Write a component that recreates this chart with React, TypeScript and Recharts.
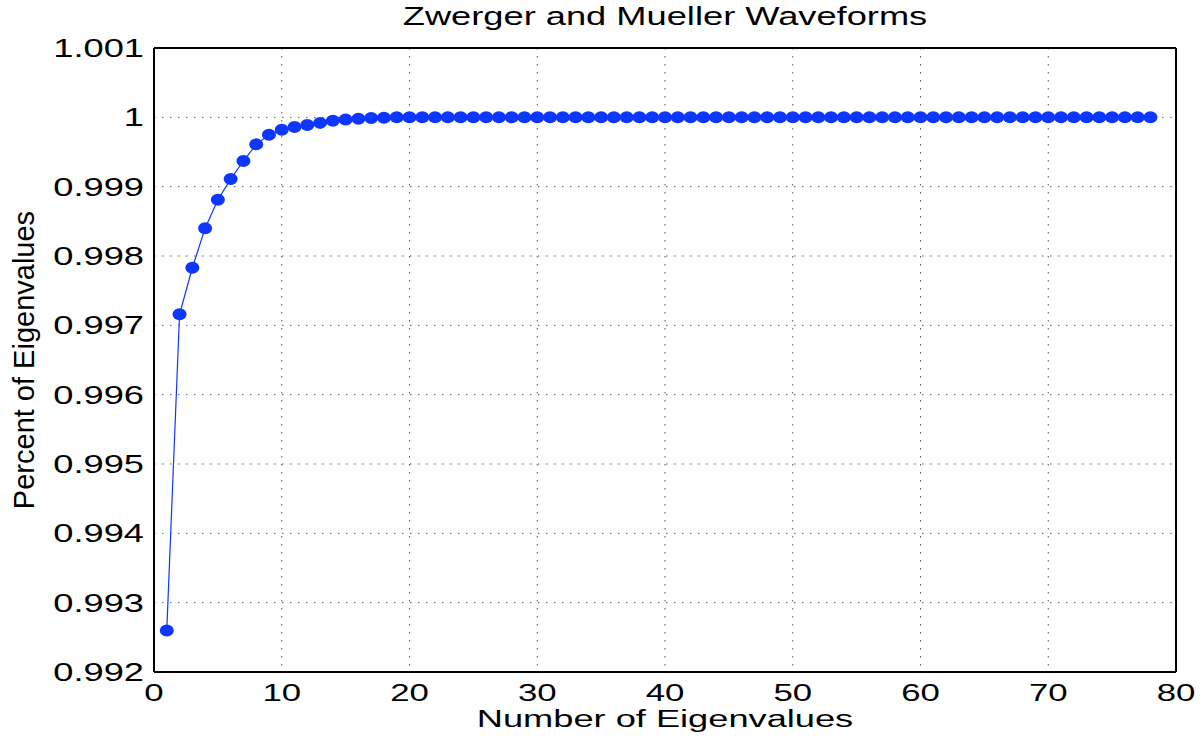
import { CartesianGrid, Label, Line, LineChart, XAxis, YAxis } from 'recharts';

const eigenCounts = [
  1, 2, 3, 4, 5, 6, 7, 8, 9, 10, 11, 12, 13, 14, 15, 16, 17, 18, 19, 20,
  21, 22, 23, 24, 25, 26, 27, 28, 29, 30, 31, 32, 33, 34, 35, 36, 37, 38, 39, 40,
  41, 42, 43, 44, 45, 46, 47, 48, 49, 50, 51, 52, 53, 54, 55, 56, 57, 58, 59, 60,
  61, 62, 63, 64, 65, 66, 67, 68, 69, 70, 71, 72, 73, 74, 75, 76, 77, 78,
];

const percentValues = [
  0.9926, 0.99716, 0.99783, 0.9984, 0.99881, 0.99911, 0.99937, 0.99961, 0.99975, 0.99982,
  0.99986, 0.99989, 0.99992, 0.99995, 0.99997, 0.99998, 0.99999, 0.999995, 1, 1,
  1, 1, 1, 1, 1, 1, 1, 1, 1, 1, 1, 1, 1, 1, 1, 1, 1, 1, 1, 1,
  1, 1, 1, 1, 1, 1, 1, 1, 1, 1, 1, 1, 1, 1, 1, 1, 1, 1, 1, 1,
  1, 1, 1, 1, 1, 1, 1, 1, 1, 1, 1, 1, 1, 1, 1, 1, 1, 1,
];

const xTicks = [0, 10, 20, 30, 40, 50, 60, 70, 80];
const yTicks = [0.992, 0.993, 0.994, 0.995, 0.996, 0.997, 0.998, 0.999, 1, 1.001];

const chartTitle = 'Zwerger and Mueller Waveforms';
const xTitle = 'Number of Eigenvalues';
const yTitle = 'Percent of Eigenvalues';

const data = eigenCounts.map((n, i) => ({ n, v: percentValues[i] }));

const FONT = '"Liberation Sans", Arial, Helvetica, sans-serif';
const BLUE = '#0d36ff';
const STRETCH = 1.45;

// matlab style: drop trailing zeros
const fmtY = (v: number) => String(Number(v.toFixed(3)));

function XTick({ x, y, payload }: any) {
  return (
    <text
      transform={`translate(${x},${y + 29}) scale(${STRETCH},1)`}
      textAnchor="middle"
      fontFamily={FONT}
      fontSize={24}
      fill="#000"
    >
      {payload.value}
    </text>
  );
}

function YTick({ x, y, payload }: any) {
  return (
    <text
      transform={`translate(${x},${y + 9}) scale(${STRETCH},1)`}
      textAnchor="end"
      fontFamily={FONT}
      fontSize={25}
      fill="#000"
    >
      {fmtY(payload.value)}
    </text>
  );
}

export default function App() {
  return (
    <div style={{ position: 'absolute', left: 0, top: 0, width: 1204, height: 743, background: '#fff' }}>
      <div
        style={{
          position: 'absolute',
          left: 154,
          top: 1,
          width: 1022,
          textAlign: 'center',
          fontFamily: FONT,
          fontSize: 25,
          lineHeight: '30px',
          transform: `scaleX(${STRETCH})`,
          whiteSpace: 'nowrap',
        }}
      >
        {chartTitle}
      </div>
      <LineChart width={1204} height={743} data={data} margin={{ top: 48, right: 28, bottom: 0, left: 0 }}>
        <CartesianGrid xAxisId="x" yAxisId="y" stroke="#555" strokeDasharray="1.5 6.5" />
        <XAxis
          xAxisId="x"
          dataKey="n"
          type="number"
          domain={[0, 80]}
          ticks={xTicks}
          height={71}
          axisLine={{ stroke: '#000', strokeWidth: 2 }}
          tickLine={false}
          tickSize={0}
          tickMargin={0}
          tick={<XTick />}
        >
          <Label
            content={({ viewBox }: any) => (
              <text
                transform={`translate(${viewBox.x + viewBox.width / 2},${viewBox.y + 55}) scale(${STRETCH * 1.02},1)`}
                textAnchor="middle"
                fontFamily={FONT}
                fontSize={24.5}
                fill="#000"
              >
                {xTitle}
              </text>
            )}
          />
        </XAxis>
        <XAxis
          xAxisId="xm"
          dataKey="n"
          type="number"
          domain={[0, 80]}
          ticks={xTicks}
          mirror
          axisLine={false}
          tickSize={12}
          tickLine={{ stroke: '#555', strokeWidth: 1.2 }}
          tick={false}
        />
        <XAxis
          xAxisId="xt"
          dataKey="n"
          type="number"
          domain={[0, 80]}
          ticks={xTicks}
          orientation="top"
          mirror
          axisLine={{ stroke: '#000', strokeWidth: 2 }}
          tickSize={12}
          tickLine={{ stroke: '#555', strokeWidth: 1.2 }}
          tick={false}
        />
        <YAxis
          yAxisId="y"
          type="number"
          domain={[0.992, 1.001]}
          ticks={yTicks}
          width={154}
          axisLine={{ stroke: '#000', strokeWidth: 2 }}
          tickLine={false}
          tickSize={0}
          tickMargin={10}
          tick={<YTick />}
        >
          <Label
            content={({ viewBox }: any) => (
              <text
                transform={`translate(${viewBox.x + 33.5},${viewBox.y + viewBox.height / 2}) rotate(-90)`}
                textAnchor="middle"
                fontFamily={FONT}
                fontSize={29}
                fill="#000"
              >
                {yTitle}
              </text>
            )}
          />
        </YAxis>
        <YAxis
          yAxisId="ym"
          type="number"
          domain={[0.992, 1.001]}
          ticks={yTicks}
          mirror
          axisLine={false}
          tickSize={12}
          tickLine={{ stroke: '#555', strokeWidth: 1.2 }}
          tick={false}
        />
        <YAxis
          yAxisId="yr"
          type="number"
          domain={[0.992, 1.001]}
          ticks={yTicks}
          orientation="right"
          mirror
          axisLine={{ stroke: '#000', strokeWidth: 2 }}
          tickSize={12}
          tickLine={{ stroke: '#555', strokeWidth: 1.2 }}
          tick={false}
        />
        <Line
          xAxisId="xm"
          yAxisId="ym"
          dataKey="v"
          stroke="none"
          dot={false}
          activeDot={false}
          isAnimationActive={false}
        />
        <Line
          xAxisId="xt"
          yAxisId="yr"
          dataKey="v"
          stroke="none"
          dot={false}
          activeDot={false}
          isAnimationActive={false}
        />
        <Line
          xAxisId="x"
          yAxisId="y"
          dataKey="v"
          type="linear"
          stroke={BLUE}
          strokeWidth={1.2}
          dot={(p: any) => (
            <ellipse key={`d-${p.index}`} cx={p.cx} cy={p.cy} rx={7} ry={6} fill={BLUE} />
          )}
          activeDot={false}
          isAnimationActive={false}
        />
      </LineChart>
    </div>
  );
}
